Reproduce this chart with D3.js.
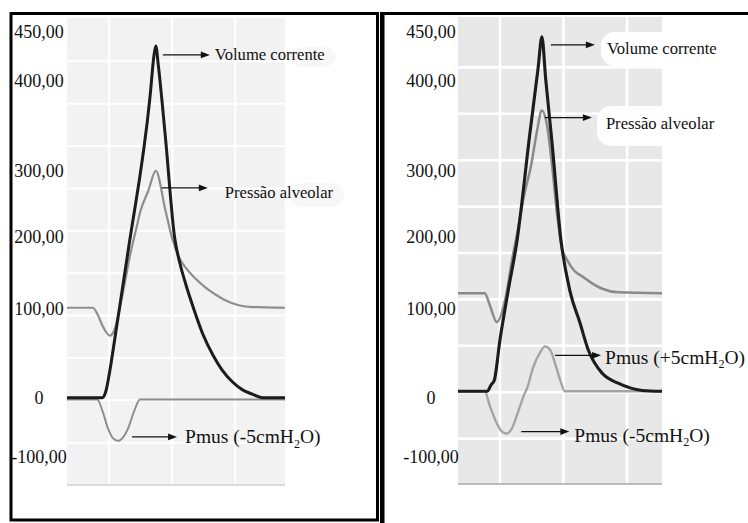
<!DOCTYPE html>
<html>
<head>
<meta charset="utf-8">
<script src="https://cdnjs.cloudflare.com/ajax/libs/d3/7.8.5/d3.min.js"></script>
<style>
  body { margin: 0; background: #fff; }
  svg { display: block; }
</style>
</head>
<body>
<div id="chart"></div>
<script>
// printed axis values (same on both panels)
var tickValues = [-100, 0, 100, 200, 300, 400, 450];
// time gridlines (s)
var timeTicks = [0, 1, 2];

// curve labels
var labelsA = ["Volume corrente", "Pressão alveolar", "Pmus (-5cmH₂O)"];
var labelsB = ["Volume corrente", "Pressão alveolar", "Pmus (+5cmH₂O)", "Pmus (-5cmH₂O)"];

// left panel: [time, value]
var volumeA = [[-0.67,0],[-0.11,0],[-0.05,8],[0.01,30],[0.09,66],[0.30,163],[0.65,336],[0.71,380],[0.74,391],
  [0.78,369],[0.89,291],[1.04,177],[1.12,150],[1.22,125],[1.35,97],[1.49,70],[1.65,47],[1.79,31],[1.95,18],
  [2.11,9],[2.27,4],[2.43,0],[2.79,0]];
var pressureA = [[-0.67,100],[-0.26,100],[-0.18,92],[-0.10,79],[0.01,69],[0.08,75],[0.16,97],[0.24,125],[0.33,158],
  [0.43,188],[0.49,206],[0.62,230],[0.74,252],[0.89,209],[1.00,177],[1.10,157],[1.22,144],[1.36,133],[1.52,123],
  [1.68,115],[1.85,108],[2.04,103],[2.23,101],[2.79,100]];
var pmusA = [[-0.67,-2],[-0.19,-2],[-0.11,-14],[-0.02,-34],[0.06,-45],[0.14,-48],[0.22,-44],[0.30,-34],[0.39,-16],
  [0.49,-2],[2.79,-2]];

// right panel: [time, value]
var volumeB = [[-0.66,0],[-0.20,0],[-0.14,7],[-0.09,12],[0.00,57],[0.13,112],[0.27,168],[0.47,286],[0.60,359],
  [0.66,394],[0.72,347],[0.82,276],[0.96,168],[1.10,112],[1.26,76],[1.39,46],[1.61,20],[1.86,9],[2.24,1],[2.55,0]];
var pressureB = [[-0.66,109],[-0.24,109],[-0.16,96],[-0.05,77],[0.08,101],[0.19,146],[0.28,179],[0.38,218],[0.49,251],
  [0.58,288],[0.66,312],[0.74,296],[0.82,251],[0.90,196],[0.98,157],[1.04,148],[1.17,134],[1.29,128],[1.45,120],
  [1.61,114],[1.86,110],[2.55,109]];
var pmusB = [[-0.66,0],[-0.24,0],[-0.16,-16],[-0.06,-34],[0.02,-44],[0.10,-47],[0.19,-41],[0.28,-24],[0.38,-4],
  [0.43,4],[0.52,26],[0.63,43],[0.71,50],[0.79,46],[0.88,28],[0.96,10],[1.02,0],[2.55,0]];

var W = 748, H = 523;
var serif = "'Liberation Serif', 'Times New Roman', serif";

var svg = d3.select("#chart").append("svg")
  .attr("width", W)
  .attr("height", H);

var defs = svg.append("defs");
defs.append("filter").attr("id", "soft")
  .append("feGaussianBlur").attr("stdDeviation", 0.45);

// the printed labels in the figure are not evenly spaced, so they get their own scale
var labelY = d3.scaleLinear()
  .domain([-100, 0, 100, 200, 300, 400, 450])
  .range([457, 398, 309, 237, 171, 81, 32]);

var fmt = d3.formatLocale({decimal: ",", thousands: ".", grouping: [3], currency: ["R$", ""], minus: "-"}).format(".2f");
var tickFmt = function(d) { return d === 0 ? "0" : fmt(d); };

function extent(data, useMin) {
  return data.reduce(function(a, b) { return (useMin ? b[1] < a[1] : b[1] > a[1]) ? b : a; });
}

function addLabel(g, txt, tx, ty, size) {
  var parts = txt.split("₂");
  var t = g.append("text")
    .attr("x", tx).attr("y", ty)
    .attr("dy", "0.33em")
    .attr("font-family", serif)
    .attr("font-size", size)
    .attr("fill", "#111")
    .text(parts[0]);
  if (parts.length > 1) {
    t.append("tspan").attr("font-size", size * 0.62).attr("dy", size * 0.22).text("2");
    t.append("tspan").attr("dy", -size * 0.22).text(parts[1]);
  }
  return t;
}

function drawPanel(p) {
  var x = d3.scaleLinear().domain(p.tDomain).range([p.left, p.right]);
  var y = d3.scaleLinear().domain(p.vDomain).range([p.bottom, p.top]);
  var g = svg.append("g");

  g.append("rect")
    .attr("x", p.left).attr("y", p.top)
    .attr("width", p.right - p.left).attr("height", p.bottom - p.top)
    .attr("fill", p.bg);

  var row = d3.scaleLinear().domain([0, p.rows]).range([p.gridTop, p.gridBottom]);
  g.selectAll(".hgrid").data(d3.range(1, p.rows)).join("line")
    .attr("class", "hgrid")
    .attr("x1", p.left).attr("x2", p.right)
    .attr("y1", function(d) { return row(d); }).attr("y2", function(d) { return row(d); })
    .attr("stroke", "#fff").attr("stroke-width", p.gridW);

  g.selectAll(".vgrid").data(timeTicks).join("line")
    .attr("class", "vgrid")
    .attr("x1", function(d) { return x(d); }).attr("x2", function(d) { return x(d); })
    .attr("y1", p.top).attr("y2", p.bottom)
    .attr("stroke", "#fff").attr("stroke-width", p.gridW);

  g.append("line")
    .attr("x1", p.left).attr("x2", p.right)
    .attr("y1", p.bottom).attr("y2", p.bottom)
    .attr("stroke", p.baseColor).attr("stroke-width", 1.6);

  // text smudges behind labels
  p.notes.forEach(function(n) {
    if (!n.blob) return;
    g.append("rect")
      .attr("x", n.blob[0]).attr("y", n.blob[1])
      .attr("width", n.blob[2]).attr("height", n.blob[3])
      .attr("rx", 14)
      .attr("fill", n.blobColor);
  });

  var ax = g.append("g")
    .attr("transform", "translate(" + p.labelX + ",0)")
    .call(d3.axisLeft(labelY).tickValues(tickValues).tickSize(0).tickPadding(0).tickFormat(tickFmt));
  ax.select(".domain").remove();
  ax.selectAll("text")
    .attr("text-anchor", "middle")
    .attr("font-family", serif)
    .attr("font-size", 18)
    .attr("fill", "#111");

  var line = d3.line()
    .x(function(d) { return x(d[0]); })
    .y(function(d) { return y(d[1]); })
    .curve(d3.curveMonotoneX);

  p.series.forEach(function(s) {
    g.append("path")
      .datum(s.data)
      .attr("d", line)
      .attr("fill", "none")
      .attr("stroke", s.color)
      .attr("stroke-width", s.width)
      .attr("stroke-linejoin", "round")
      .attr("filter", "url(#soft)");
  });

  p.notes.forEach(function(n) {
    var pt = extent(n.data, n.min);
    var x0 = x(pt[0]) + n.dx, ay = y(pt[1]) + n.dy, x1 = x0 + n.len;
    g.append("line")
      .attr("x1", x0).attr("x2", x1 - 7)
      .attr("y1", ay).attr("y2", ay)
      .attr("stroke", "#111").attr("stroke-width", 1.2);
    g.append("path")
      .attr("d", "M" + x1 + "," + ay + "L" + (x1 - 9) + "," + (ay - 3.4) + "L" + (x1 - 9) + "," + (ay + 3.4) + "Z")
      .attr("fill", "#111");
    addLabel(g, n.text, x1 + n.gap, ay + n.tdy, n.size);
  });
}

drawPanel({
  left: 67, right: 285, top: 18, bottom: 485,
  tDomain: [-0.67, 2.79], vDomain: [-97, 422],
  rows: 11, gridTop: 19, gridBottom: 485, gridW: 2,
  bg: "#f2f2f2", baseColor: "#d2d2d2", labelX: 39,
  series: [
    {data: pmusA, color: "#8c8c8c", width: 1.9},
    {data: pressureA, color: "#8e8e8e", width: 2.2},
    {data: volumeA, color: "#1c1c1c", width: 3}
  ],
  notes: [
    {text: labelsA[0], data: volumeA, min: false, dx: 7, dy: 9, len: 47, gap: 5, tdy: 0, size: 16.6,
     blob: [290, 47, 46, 20], blobColor: "#f7f7f7"},
    {text: labelsA[1], data: pressureA, min: false, dx: 6, dy: 17, len: 46, gap: 17, tdy: 5, size: 16.6,
     blob: [290, 183, 54, 24], blobColor: "#f7f7f7"},
    {text: labelsA[2], data: pmusA, min: true, dx: 14, dy: -4, len: 45, gap: 8, tdy: 0, size: 19.5}
  ]
});

drawPanel({
  left: 458, right: 662, top: 17, bottom: 484,
  tDomain: [-0.66, 2.55], vDomain: [-103, 416],
  rows: 10, gridTop: 21, gridBottom: 485, gridW: 2.6,
  bg: "#e8e8e8", baseColor: "#a8a8a8", labelX: 431,
  series: [
    {data: pmusB, color: "#a4a4a4", width: 2.4},
    {data: pressureB, color: "#8a8a8a", width: 2.5},
    {data: volumeB, color: "#1c1c1c", width: 3.1}
  ],
  notes: [
    {text: labelsB[0], data: volumeB, min: false, dx: 9, dy: 8, len: 44, gap: 12, tdy: 4, size: 16.6,
     blob: [601, 32, 130, 34], blobColor: "#ffffff"},
    {text: labelsB[1], data: pressureB, min: false, dx: 3, dy: 7, len: 47, gap: 14, tdy: 6, size: 16.6,
     blob: [597, 106, 130, 40], blobColor: "#ffffff"},
    {text: labelsB[2], data: pmusB, min: false, dx: 10, dy: 9, len: 46, gap: 4, tdy: 2, size: 19.5},
    {text: labelsB[3], data: pmusB, min: true, dx: 15, dy: -2, len: 48, gap: 5, tdy: 4, size: 19.5}
  ]
});

// picture frames
svg.append("rect")
  .attr("x", 11).attr("y", 13.5)
  .attr("width", 366.5).attr("height", 506.5)
  .attr("fill", "none")
  .attr("stroke", "#000").attr("stroke-width", 3);

svg.append("rect")
  .attr("x", 380).attr("y", 12)
  .attr("width", 4.5).attr("height", H - 12)
  .attr("fill", "#000");

svg.append("line")
  .attr("x1", 380).attr("x2", W)
  .attr("y1", 13.5).attr("y2", 13.5)
  .attr("stroke", "#000").attr("stroke-width", 3);
</script>
</body>
</html>
